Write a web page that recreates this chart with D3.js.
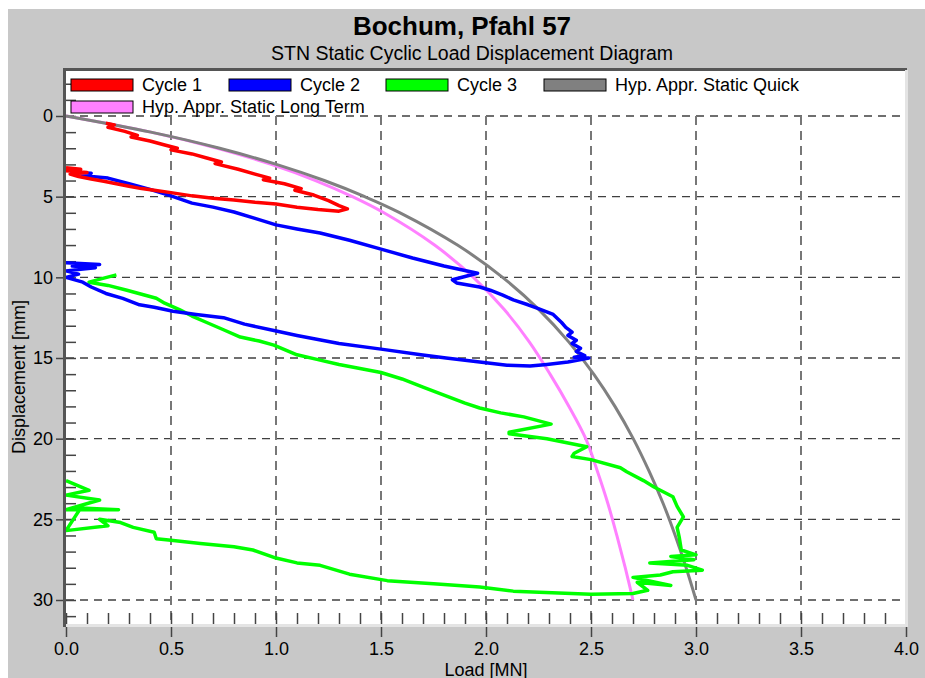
<!DOCTYPE html>
<html>
<head>
<meta charset="utf-8">
<script src="https://cdn.jsdelivr.net/npm/d3@7"></script>
<style>
body{margin:0;background:#fff;}
text{font-family:"Liberation Sans",Arial,Helvetica,sans-serif;}
</style>
</head>
<body>
<svg id="chart" width="925" height="678"></svg>
<script>

// values: [load MN, displacement mm]
var cycle1 = [[0.19,0.45],[0.23,0.55],[0.2,0.7],[0.28,0.95],[0.34,1.2],[0.31,1.3],[0.4,1.55],[0.47,1.8],[0.53,2.0],[0.5,2.1],[0.6,2.35],[0.67,2.6],[0.74,2.85],[0.71,2.95],[0.82,3.3],[0.9,3.6],[0.97,3.85],[0.94,3.95],[1.04,4.2],[1.12,4.5],[1.09,4.6],[1.18,4.9],[1.25,5.25],[1.3,5.55],[1.34,5.75],
  [1.3,5.9],[1.2,5.8],[1.1,5.65],[1.0,5.45],[0.9,5.35],[0.8,5.2],[0.7,5.1],[0.6,4.95],[0.5,4.75],[0.42,4.6],[0.36,4.5],[0.3,4.35],[0.24,4.2],[0.18,4.05],[0.12,3.9],[0.06,3.75],[0.02,3.6],[0.1,3.5],[0.0,3.4],[0.07,3.3],[0.0,3.2]];

var cycle2 = [[0.02,3.5],[0.12,3.55],[0.08,3.7],[0.2,3.85],[0.3,4.2],[0.4,4.55],[0.5,4.95],[0.6,5.4],[0.7,5.65],[0.8,5.95],[0.9,6.35],[1.0,6.75],[1.1,7.0],[1.21,7.25],[1.35,7.7],[1.5,8.25],[1.65,8.8],[1.8,9.3],[1.96,9.75],
  [1.84,10.15],[1.86,10.35],[1.97,10.6],[2.02,10.8],[2.08,11.1],[2.13,11.4],[2.2,11.7],[2.24,11.9],[2.32,12.3],[2.36,12.8],[2.38,13.1],[2.41,13.4],[2.39,13.6],[2.43,13.9],[2.41,14.1],[2.45,14.4],[2.43,14.6],[2.47,14.85],[2.42,14.95],[2.49,15.0],
  [2.39,15.25],[2.29,15.4],[2.21,15.5],[2.1,15.45],[2.0,15.3],[1.81,15.0],[1.69,14.8],[1.5,14.45],[1.3,14.1],[1.1,13.6],[0.99,13.3],[0.85,12.9],[0.75,12.5],[0.62,12.3],[0.51,12.1],[0.42,11.85],[0.35,11.7],[0.27,11.3],[0.19,11.0],[0.12,10.6],[0.08,10.3],[0.0,10.0],
  [0.06,9.8],[0.0,9.6],[0.14,9.4],[0.03,9.3],[0.16,9.2],[0.0,9.1]];

var cycle3 = [[0.24,9.85],[0.18,10.05],[0.11,10.3],[0.2,10.5],[0.29,10.8],[0.36,11.05],[0.43,11.3],[0.47,11.6],[0.54,12.0],[0.6,12.4],[0.67,12.8],[0.75,13.25],[0.83,13.7],[0.92,13.95],[0.99,14.2],[1.1,14.8],[1.2,15.1],[1.3,15.4],[1.4,15.65],[1.5,15.9],[1.6,16.3],[1.7,16.8],[1.8,17.3],[1.9,17.8],[1.97,18.1],
  [2.07,18.4],[2.18,18.65],[2.31,19.1],[2.11,19.6],[2.11,19.7],[2.29,20.0],[2.48,20.5],[2.42,20.9],[2.41,21.1],[2.5,21.3],[2.64,21.8],[2.67,22.05],[2.75,22.6],[2.8,23.0],[2.89,23.6],[2.91,24.2],[2.94,24.85],[2.91,25.5],[2.92,26.1],[2.93,26.9],
  [3.0,27.2],[2.88,27.3],[2.99,27.5],[2.78,27.7],[2.96,27.85],[3.03,28.15],[2.89,28.25],[2.83,28.45],[2.7,28.6],[2.88,29.1],[2.72,28.9],[2.77,29.4],[2.7,29.6],
  [2.5,29.65],[2.13,29.45],[1.97,29.2],[1.75,29.0],[1.53,28.8],[1.35,28.4],[1.21,27.85],[1.1,27.7],[1.0,27.4],[0.89,26.9],[0.8,26.7],[0.64,26.5],[0.5,26.3],[0.43,26.2],[0.42,25.8],[0.32,25.5],[0.26,25.2],[0.16,25.0],[0.2,25.4],[0.0,25.7],[0.07,24.3],
  [0.25,24.4],[0.0,24.4],[0.16,23.8],[0.0,23.5],[0.11,23.2],[0.0,22.6]];

var quick = [[0,0],[0.404,1],[0.732,2],[1.002,3],[1.23,4],[1.423,5],[1.591,6],[1.864,8],[2.079,10],[2.252,12],[2.394,14],[2.513,16],[2.614,18],[2.701,20],[2.776,22],[2.843,24],[2.901,26],[2.953,28],[3.0,30]];

var longTerm = [[0,0],[0.404,1],[0.721,2],[0.977,3],[1.188,4],[1.364,5],[1.514,6],[1.755,8],[1.94,10],[2.087,12],[2.206,14],[2.305,16],[2.395,18],[2.475,20],[2.53,22],[2.58,24],[2.623,26],[2.663,28],[2.7,30]];

var seriesNames = ["Cycle 1","Cycle 2","Cycle 3","Hyp. Appr. Static Quick","Hyp. Appr. Static Long Term"];
var seriesColors = ["#ff0000","#0000ff","#00ff00","#808080","#ff80ff"];

var loadTicks = [0,0.5,1.0,1.5,2.0,2.5,3.0,3.5,4.0];
var dispTicks = [0,5,10,15,20,25,30];

var svg = d3.select("#chart");

var margin = {top: 71, left: 66, right: 906, bottom: 624};

var x = d3.scaleLinear().domain([0,4]).range([66,906]);
var y = d3.scaleLinear().domain([0,30]).range([116,600]);

// background
svg.append("rect").attr("x",8).attr("y",9).attr("width",917).attr("height",669).attr("fill","#c8c8c8");
svg.append("rect").attr("x",margin.left).attr("y",margin.top)
   .attr("width",margin.right-margin.left).attr("height",margin.bottom-margin.top).attr("fill","#fff");

// titles
svg.append("text").attr("x",462).attr("y",35).attr("text-anchor","middle")
   .style("font-size","26px").style("font-weight","bold").text("Bochum, Pfahl 57");
svg.append("text").attr("x",472).attr("y",60).attr("text-anchor","middle")
   .style("font-size","19.5px").text("STN Static Cyclic Load Displacement Diagram");

// grid
svg.append("g").selectAll("line").data(dispTicks).enter().append("line")
   .attr("x1",66).attr("x2",906).attr("y1",d=>y(d)).attr("y2",d=>y(d))
   .attr("stroke","#404040").attr("stroke-width",1.3).attr("stroke-dasharray","8,6");
svg.append("g").selectAll("line").data(loadTicks.slice(1)).enter().append("line")
   .attr("x1",d=>x(d)).attr("x2",d=>x(d)).attr("y1",y(0)).attr("y2",624)
   .attr("stroke","#777").attr("stroke-width",2).attr("stroke-dasharray","9,6");

// minor ticks
var minorY = d3.range(-2,32);
var minorX = d3.range(0,41).map(d=>d/10);
svg.append("g").attr("transform","translate(66,0)")
   .call(d3.axisRight(y).tickValues(minorY).tickSize(10).tickFormat(""))
   .call(g=>g.select(".domain").remove())
   .selectAll("line").attr("stroke","#444").attr("stroke-width",1.5);
svg.append("g").attr("transform","translate(0,624)")
   .call(d3.axisTop(x).tickValues(minorX).tickSize(11).tickFormat(""))
   .call(g=>g.select(".domain").remove())
   .selectAll("line").attr("stroke","#444").attr("stroke-width",1.5);

// major axes
var yAxis = svg.append("g").attr("transform","translate(66,0)")
   .call(d3.axisLeft(y).tickValues(dispTicks).tickSize(10).tickPadding(3));
yAxis.select(".domain").remove();
yAxis.selectAll("line").attr("stroke","#444").attr("stroke-width",1.5);
yAxis.selectAll("text").style("font-size","18px").attr("fill","#000")
   .style("font-family","'Liberation Sans',Arial,sans-serif");

var xAxis = svg.append("g").attr("transform","translate(0,624)")
   .call(d3.axisBottom(x).tickValues(loadTicks).tickSize(13).tickFormat(d3.format(".1f")));
xAxis.select(".domain").remove();
xAxis.selectAll("line").attr("stroke","#444").attr("stroke-width",1.5);
xAxis.selectAll("text").style("font-size","18px").attr("fill","#000").attr("y",31).attr("dy",0)
   .style("font-family","'Liberation Sans',Arial,sans-serif");

// curves
var line = d3.line().x(d=>x(d[0])).y(d=>y(d[1]));
var smooth = d3.line().x(d=>x(d[0])).y(d=>y(d[1])).curve(d3.curveCatmullRom);

svg.append("path").datum(longTerm).attr("d",smooth).attr("fill","none")
   .attr("stroke",seriesColors[4]).attr("stroke-width",3);
svg.append("path").datum(quick).attr("d",smooth).attr("fill","none")
   .attr("stroke",seriesColors[3]).attr("stroke-width",3);
[cycle3,cycle2,cycle1].forEach(function(c,i){
  svg.append("path").datum(c).attr("d",line).attr("fill","none")
     .attr("stroke",seriesColors[2-i]).attr("stroke-width",3.5).attr("stroke-linejoin","round");
});

// frame: dark top/left, light bottom/right
svg.append("rect").attr("x",63).attr("y",68).attr("width",844).attr("height",3).attr("fill","#555");
svg.append("rect").attr("x",63).attr("y",68).attr("width",3).attr("height",559).attr("fill","#555");
svg.append("rect").attr("x",905).attr("y",70).attr("width",3).attr("height",557).attr("fill","#e4e4e4");
svg.append("rect").attr("x",66).attr("y",624).attr("width",842).attr("height",3).attr("fill","#e4e4e4");

// legend
var legPos = [[71,79],[229,79],[386,79],[544,79],[71,101]];
var leg = svg.append("g").selectAll("g").data(seriesNames).enter().append("g")
   .attr("transform",(d,i)=>"translate("+legPos[i][0]+","+legPos[i][1]+")");
leg.append("rect").attr("width",62).attr("height",12)
   .attr("fill",(d,i)=>seriesColors[i]).attr("stroke","#000").attr("stroke-width",1);
leg.append("text").attr("x",71).attr("y",12).style("font-size","18px").text(d=>d);

// axis labels
svg.append("text").attr("x",486).attr("y",676).attr("text-anchor","middle")
   .style("font-size","18px").text("Load [MN]");
svg.append("text").attr("transform","translate(25,377) rotate(-90)").attr("text-anchor","middle")
   .style("font-size","18px").text("Displacement [mm]");

</script>
</body>
</html>
